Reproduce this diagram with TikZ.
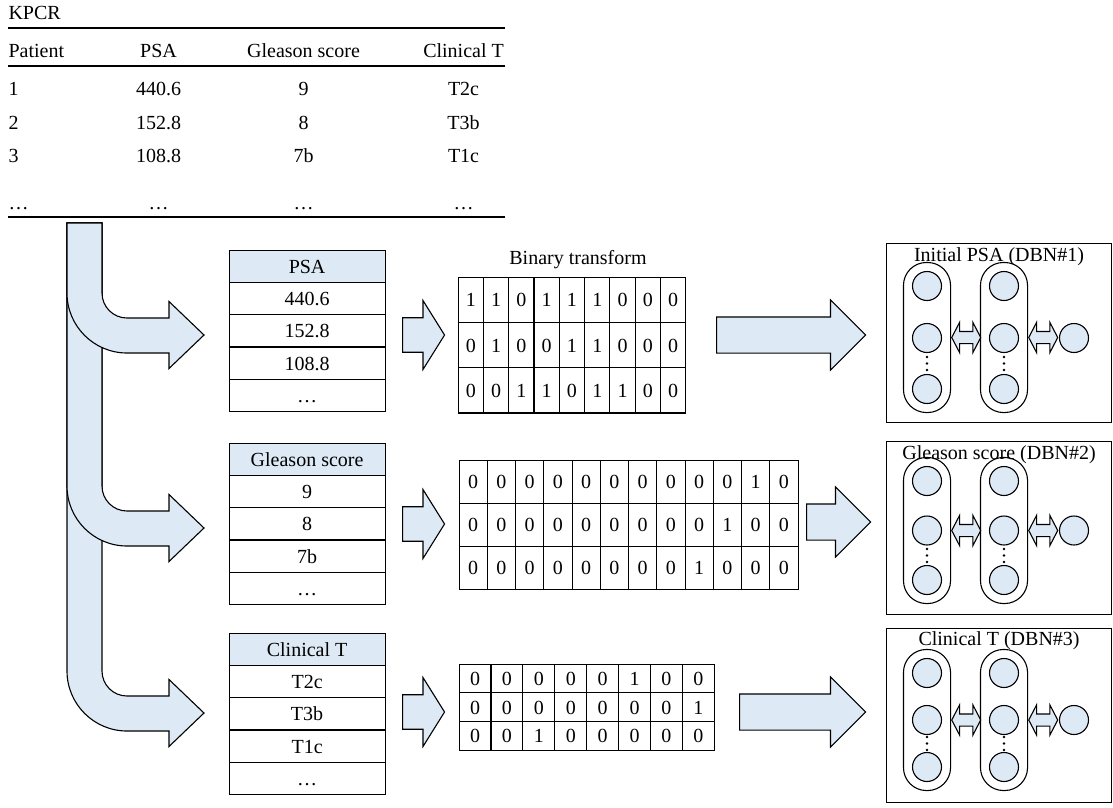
\documentclass[tikz,border=0pt]{standalone}
\usepackage{fontspec}
\setmainfont{Liberation Serif}
\usepackage{xcolor}
\usepackage{tikz}
\usetikzlibrary{matrix,positioning,fit,shapes.arrows}
\definecolor{lightfill}{RGB}{221,233,245}

\begin{document}
\begin{tikzpicture}[x=1pt,y=-1pt,line width=1.1pt,
  font=\fontsize{20}{24}\selectfont,
  every node/.append style={inner sep=0pt,text height=15pt,text depth=1pt},
  cell/.style={draw,anchor=center},
  tabcell/.style={cell,minimum width=156pt,minimum height=32.3pt},
  tab/.style={matrix of nodes,anchor=north west,row sep=-\pgflinewidth,
    nodes={tabcell},row 1/.style={nodes={fill=lightfill}}},
  binmat/.style={matrix of nodes,anchor=north west,
    row sep=-\pgflinewidth,column sep=-\pgflinewidth},
  bentarrow/.style={draw,fill=lightfill},
  smallarrow/.style={single arrow,draw,fill=lightfill,minimum width=69pt,
    inner xsep=0pt,inner ysep=16.5pt,
    single arrow head extend=17pt,single arrow tip angle=116,
    minimum height=42pt,anchor=tail,text height=,text depth=},
  bigarrow/.style={single arrow,draw,fill=lightfill,minimum width=69pt,
    inner xsep=0pt,inner ysep=17.5pt,
    single arrow head extend=17pt,single arrow tip angle=90,
    anchor=tail,text height=,text depth=},
  dbnbox/.style={draw,minimum width=225pt,anchor=north west,text height=,text depth=},
  unit/.style={circle,draw,fill=lightfill,minimum size=29pt,text height=,text depth=},
  layer/.style={draw,rounded corners=23pt,inner sep=8.5pt,text height=,text depth=},
  dblarrow/.style={double arrow,draw,fill=lightfill,minimum width=29pt,
    inner xsep=0pt,inner ysep=5.5pt,
    minimum height=29pt,double arrow head extend=9pt,double arrow tip angle=125,
    anchor=west,text height=,text depth=}]
\useasboundingbox (0,0) rectangle (1113,807);

\node[anchor=west] (kpcrlabel) at (8,12) {KPCR};
\matrix (kpcr) [matrix of nodes,anchor=north west,
  nodes={minimum height=33.5pt},
  column 1/.style={nodes={text width=100pt,align=left}},
  column 2/.style={nodes={minimum width=100pt}},
  column 3/.style={nodes={minimum width=190pt}},
  column 4/.style={nodes={minimum width=130pt}}] at (8,33.25) {
Patient & PSA & Gleason score & Clinical T \\[4.5pt]
1 & 440.6 & 9 & T2c \\
2 & 152.8 & 8 & T3b \\
3 & 108.8 & 7b & T1c \\[13.5pt]
\ldots & \ldots & \ldots & \ldots \\
};
\draw (8,28) -- (505,28);
\draw (8,66) -- (505,66);
\draw (8,217) -- (505,217);

\filldraw[bentarrow] (67,223) -- (102,223) -- (102,671) .. controls (102,684.8) and (113.2,696) .. (127,696) -- (169,696) -- (169,679.5) -- (204,713) -- (169,746.5) -- (169,731) -- (127,731) .. controls (93.9,731) and (67,704.1) .. (67,671) -- cycle;
\filldraw[bentarrow] (67,223) -- (102,223) -- (102,486) .. controls (102,499.8) and (113.2,511) .. (127,511) -- (169,511) -- (169,494.5) -- (204,528) -- (169,561.5) -- (169,546) -- (127,546) .. controls (93.9,546) and (67,519.1) .. (67,486) -- cycle;
\filldraw[bentarrow] (67,223) -- (102,223) -- (102,293) .. controls (102,306.8) and (113.2,318) .. (127,318) -- (169,318) -- (169,301.5) -- (204,335) -- (169,368.5) -- (169,353) -- (127,353) .. controls (93.9,353) and (67,326.1) .. (67,293) -- cycle;

\matrix (psatab) [tab] at (228,249) {PSA \\ 440.6 \\ 152.8 \\ 108.8 \\ \ldots \\};
\matrix (gstab) [tab] at (228,442) {Gleason score \\ 9 \\ 8 \\ 7b \\ \ldots \\};
\matrix (cttab) [tab] at (228,632) {Clinical T \\ T2c \\ T3b \\ T1c \\ \ldots \\};

\node[smallarrow] (sarr1) at (402,335) {};
\node[smallarrow] (sarr2) at (402,524) {};
\node[smallarrow] (sarr3) at (402,712) {};

\matrix (bin1) [binmat,nodes={cell,minimum width=25.3pt,minimum height=45.3pt}] at (457,276) {
1 & 1 & 0 & 1 & 1 & 1 & 0 & 0 & 0 \\
0 & 1 & 0 & 0 & 1 & 1 & 0 & 0 & 0 \\
0 & 0 & 1 & 1 & 0 & 1 & 1 & 0 & 0 \\
};
\node (bintitle) [above=10pt of bin1,xshift=6pt] {Binary transform};
\matrix (bin2) [binmat,nodes={cell,minimum width=28.25pt,minimum height=43pt}] at (458,459) {
0 & 0 & 0 & 0 & 0 & 0 & 0 & 0 & 0 & 0 & 1 & 0 \\
0 & 0 & 0 & 0 & 0 & 0 & 0 & 0 & 0 & 1 & 0 & 0 \\
0 & 0 & 0 & 0 & 0 & 0 & 0 & 0 & 1 & 0 & 0 & 0 \\
};
\matrix (bin3) [binmat,nodes={cell,minimum width=31.9pt,minimum height=28.7pt}] at (458,663) {
0 & 0 & 0 & 0 & 0 & 1 & 0 & 0 \\
0 & 0 & 0 & 0 & 0 & 0 & 0 & 1 \\
0 & 0 & 1 & 0 & 0 & 0 & 0 & 0 \\
};

\node[bigarrow,minimum height=149pt] (barr1) at (716,335) {};
\node[bigarrow,minimum height=64pt] (barr2) at (806,522) {};
\node[bigarrow,minimum height=126pt] (barr3) at (739,712) {};

\node[dbnbox,minimum height=179pt] (dbn1) at (886,243) {};
\node (dbn1-t) [below=3pt of dbn1.north] {Initial PSA (DBN\#1)};
\node[unit] (dbn1-a1) at (927,286) {};
\node[unit] (dbn1-a2) at (927,338) {};
\node[unit] (dbn1-a3) at (927,389) {};
\node[unit] (dbn1-b1) at (1004,286) {};
\node[unit] (dbn1-b2) at (1004,338) {};
\node[unit] (dbn1-b3) at (1004,389) {};
\node[unit] (dbn1-out) at (1074,338) {};
\node[layer,fit=(dbn1-a1)(dbn1-a3)] (dbn1-l1) {};
\node[layer,fit=(dbn1-b1)(dbn1-b3)] (dbn1-l2) {};
\node[dblarrow,right=0pt of dbn1-l1] (dbn1-d1) {};
\node[dblarrow,right=0pt of dbn1-l2] (dbn1-d2) {};
\fill (927,357) circle (1.3pt) (927,363.5) circle (1.3pt) (927,370) circle (1.3pt);
\fill (1004,357) circle (1.3pt) (1004,363.5) circle (1.3pt) (1004,370) circle (1.3pt);

\node[dbnbox,minimum height=173pt] (dbn2) at (886,441) {};
\node (dbn2-t) [below=3pt of dbn2.north] {Gleason score (DBN\#2)};
\node[unit] (dbn2-a1) at (927,481) {};
\node[unit] (dbn2-a2) at (927,530.5) {};
\node[unit] (dbn2-a3) at (927,580) {};
\node[unit] (dbn2-b1) at (1004,481) {};
\node[unit] (dbn2-b2) at (1004,530.5) {};
\node[unit] (dbn2-b3) at (1004,580) {};
\node[unit] (dbn2-out) at (1074,530.5) {};
\node[layer,fit=(dbn2-a1)(dbn2-a3)] (dbn2-l1) {};
\node[layer,fit=(dbn2-b1)(dbn2-b3)] (dbn2-l2) {};
\node[dblarrow,right=0pt of dbn2-l1] (dbn2-d1) {};
\node[dblarrow,right=0pt of dbn2-l2] (dbn2-d2) {};
\fill (927,549) circle (1.3pt) (927,555.5) circle (1.3pt) (927,562) circle (1.3pt);
\fill (1004,549) circle (1.3pt) (1004,555.5) circle (1.3pt) (1004,562) circle (1.3pt);

\node[dbnbox,minimum height=174pt] (dbn3) at (886,628) {};
\node (dbn3-t) [below=2pt of dbn3.north] {Clinical T (DBN\#3)};
\node[unit] (dbn3-a1) at (927,673) {};
\node[unit] (dbn3-a2) at (927,720) {};
\node[unit] (dbn3-a3) at (927,767) {};
\node[unit] (dbn3-b1) at (1004,673) {};
\node[unit] (dbn3-b2) at (1004,720) {};
\node[unit] (dbn3-b3) at (1004,767) {};
\node[unit] (dbn3-out) at (1074,720) {};
\node[layer,fit=(dbn3-a1)(dbn3-a3)] (dbn3-l1) {};
\node[layer,fit=(dbn3-b1)(dbn3-b3)] (dbn3-l2) {};
\node[dblarrow,right=0pt of dbn3-l1] (dbn3-d1) {};
\node[dblarrow,right=0pt of dbn3-l2] (dbn3-d2) {};
\fill (927,737) circle (1.3pt) (927,743.5) circle (1.3pt) (927,750) circle (1.3pt);
\fill (1004,737) circle (1.3pt) (1004,743.5) circle (1.3pt) (1004,750) circle (1.3pt);
\end{tikzpicture}
\end{document}
